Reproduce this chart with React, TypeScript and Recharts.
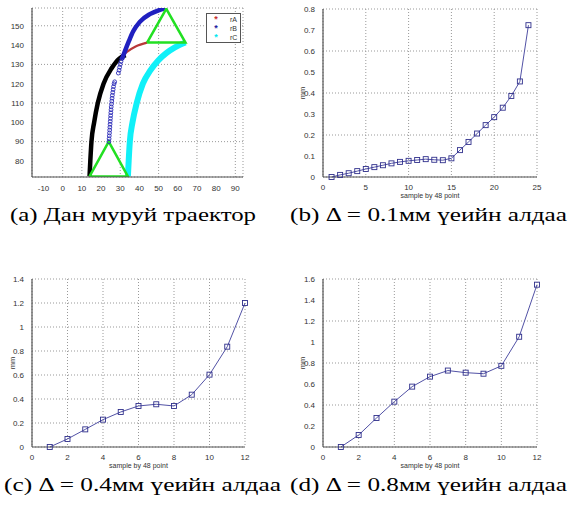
import React from "react";
import { LineChart, Line, XAxis, YAxis, CartesianGrid, Legend } from "recharts";

// (a) trajectories
const pathA = [
  { x: 14, y: 72 }, { x: 14.4, y: 80 }, { x: 15, y: 90 }, { x: 16.4, y: 100 },
  { x: 18.3, y: 110 }, { x: 21.3, y: 120 }, { x: 25.5, y: 128 }, { x: 29.5, y: 133 },
  { x: 33.5, y: 136.5 }, { x: 38, y: 139.3 }, { x: 44, y: 141.3 },
];
const pathBlack = [
  { x: 14, y: 72 }, { x: 14.4, y: 80 }, { x: 15, y: 90 }, { x: 16.4, y: 100 },
  { x: 18.3, y: 110 }, { x: 21.3, y: 120 }, { x: 25.5, y: 128 }, { x: 29.5, y: 133 },
  { x: 32.8, y: 134.8 },
];
const pathBLow = [
  { x: 24.1, y: 90 }, { x: 24.2, y: 91.5 }, { x: 24.3, y: 93 }, { x: 24.4, y: 94.5 },
  { x: 24.5, y: 96 }, { x: 24.6, y: 97.5 }, { x: 24.7, y: 99 }, { x: 24.8, y: 100.5 },
  { x: 24.9, y: 102 }, { x: 25, y: 103.5 }, { x: 25.1, y: 105 }, { x: 25.2, y: 106.5 },
  { x: 25.3, y: 108 }, { x: 25.45, y: 109.5 }, { x: 25.6, y: 111 }, { x: 25.75, y: 112.5 },
  { x: 25.9, y: 114 }, { x: 26.1, y: 115.5 }, { x: 26.3, y: 117 }, { x: 26.5, y: 118.5 },
  { x: 26.8, y: 120 }, { x: 27.1, y: 121 },
  { x: 29, y: 125.5 }, { x: 29.4, y: 127 }, { x: 29.7, y: 128.5 }, { x: 30, y: 130 },
  { x: 30.4, y: 131.5 }, { x: 30.9, y: 133 },
];
const pathBHigh = [
  { x: 30.8, y: 132.5 }, { x: 32.5, y: 137 }, { x: 34.5, y: 142 }, { x: 36.7, y: 147 },
  { x: 40.2, y: 152 }, { x: 45.4, y: 156 }, { x: 50, y: 158 }, { x: 53.5, y: 159 },
];
const pathC = [
  { x: 34, y: 72 }, { x: 34.4, y: 80 }, { x: 35, y: 90 }, { x: 36.4, y: 100 },
  { x: 38.6, y: 110 }, { x: 41.8, y: 120 }, { x: 45.8, y: 127 }, { x: 49.8, y: 132 },
  { x: 54, y: 135.8 }, { x: 58.5, y: 138.8 }, { x: 64, y: 141.3 },
];
const triStart = [{ x: 14, y: 72 }, { x: 34, y: 72 }, { x: 24, y: 90 }, { x: 14, y: 72 }];
const triEnd = [{ x: 44, y: 141.3 }, { x: 64, y: 141.3 }, { x: 54, y: 158.8 }, { x: 44, y: 141.3 }];
const legendA = [
  { name: "rA", color: "#c83030" },
  { name: "rB", color: "#1c1ca0" },
  { name: "rC", color: "#00e8f0" },
];
const ticksAX = [-10, 0, 10, 20, 30, 40, 50, 60, 70, 80, 90];
const ticksAY = [80, 90, 100, 110, 120, 130, 140, 150];

// (b)-(d) error per sample
const err01 = [0, 0.01, 0.018, 0.028, 0.038, 0.047, 0.056, 0.065, 0.072, 0.077, 0.081, 0.085,
  0.082, 0.08, 0.089, 0.128, 0.167, 0.207, 0.247, 0.285, 0.33, 0.386, 0.455, 0.723];
const err04 = [0, 0.067, 0.147, 0.228, 0.292, 0.342, 0.356, 0.342, 0.436, 0.603, 0.836, 1.2];
const err08 = [0, 0.114, 0.276, 0.432, 0.575, 0.67, 0.728, 0.708, 0.698, 0.773, 1.05, 1.546];
const ticks01Y = [0, 0.1, 0.2, 0.3, 0.4, 0.5, 0.6, 0.7, 0.8];
const ticks04Y = [0, 0.2, 0.4, 0.6, 0.8, 1, 1.2, 1.4];
const ticks08Y = [0, 0.2, 0.4, 0.6, 0.8, 1, 1.2, 1.4, 1.6];
const ticks24X = [0, 5, 10, 15, 20, 25];
const ticks12X = [0, 2, 4, 6, 8, 10, 12];

const captions = [
  { text: "(a) Дан муруй траектор", x: 10, y: 221, w: 246 },
  { text: "(b) Δ = 0.1мм үеийн алдаа", x: 290, y: 221, w: 277 },
  { text: "(c) Δ = 0.4мм үеийн алдаа", x: 4, y: 491, w: 277 },
  { text: "(d) Δ = 0.8мм үеийн алдаа", x: 290, y: 491, w: 277 },
];

const sans = "Liberation Sans, Arial, sans-serif";
const tickStyle = { fontSize: 8, fill: "#333", fontFamily: sans };
const axisLine = { stroke: "#555", strokeWidth: 1.2 };

const square = (p: any) => (
  <rect key={"s" + p.index} x={p.cx - 2.5} y={p.cy - 2.5} width={5} height={5}
    fill="none" stroke="#30308c" strokeWidth={0.9} />
);

const mmLabel = (p: any) => {
  const vb = p.viewBox;
  const x = vb.x + 12;
  const y = vb.y + vb.height / 2;
  return (
    <text x={x} y={y} transform={`rotate(-90 ${x} ${y})`} textAnchor="middle"
      dominantBaseline="central" fontSize={7.5} fill="#333" fontFamily={sans}>mm</text>
  );
};

function renderLegend() {
  return (
    <div style={{ width: 35, height: 30, border: "1px solid #555", background: "#fff",
      fontFamily: sans, fontSize: 7, color: "#333", boxSizing: "border-box", paddingTop: 1 }}>
      {legendA.map((it) => (
        <div key={it.name} style={{ height: 9, lineHeight: "9px", display: "flex" }}>
          <span style={{ width: 18, textAlign: "center", color: it.color, fontSize: 9, fontWeight: "bold" }}>*</span>
          <span style={{ marginLeft: 5 }}>{it.name}</span>
        </div>
      ))}
    </div>
  );
}

function ErrorPanel(props: { values: number[]; xTicks: number[]; yTicks: number[]; left: number; top: number; height: number; yw: number; mr: number; mt: number }) {
  const data = props.values.map((v, i) => ({ x: i + 1, y: v }));
  const xMax = props.xTicks[props.xTicks.length - 1];
  const yMax = props.yTicks[props.yTicks.length - 1];
  return (
    <div style={{ position: "absolute", left: props.left, top: props.top }}>
      <LineChart width={290} height={props.height} data={data}
        margin={{ top: props.mt, right: props.mr, left: 0, bottom: 3 }}>
        <CartesianGrid stroke="#999" strokeDasharray="1 2" />
        <XAxis dataKey="x" type="number" domain={[0, xMax]} ticks={props.xTicks} height={20}
          tick={tickStyle} tickLine={false} axisLine={axisLine} tickMargin={1}
          label={{ value: "sample by 48 point", position: "insideBottom", offset: -1,
            style: { fontSize: 7, fill: "#333", fontFamily: sans } }} />
        <YAxis type="number" domain={[0, yMax]} ticks={props.yTicks} width={props.yw}
          tick={tickStyle} tickLine={false} axisLine={axisLine} tickMargin={2}
          label={{ content: mmLabel }} />
        <Line dataKey="y" type="linear" stroke="#5252a6" strokeWidth={1}
          dot={square} isAnimationActive={false} />
      </LineChart>
    </div>
  );
}

function TrajectoryPanel() {
  return (
    <div style={{ position: "absolute", left: 0, top: 0 }}>
      <LineChart width={290} height={200} margin={{ top: 8, right: 47, left: 0, bottom: 5 }}>
        <CartesianGrid stroke="#999" strokeDasharray="1 2" />
        <XAxis dataKey="x" type="number" domain={[-16, 94]} ticks={ticksAX} height={18}
          tick={tickStyle} tickLine={false} axisLine={axisLine} tickMargin={2} allowDataOverflow />
        <YAxis type="number" domain={[71.7, 159.2]} ticks={ticksAY} width={32}
          tick={tickStyle} tickLine={false} axisLine={axisLine} tickMargin={2} allowDataOverflow />
        <Legend layout="horizontal" verticalAlign="middle" align="center" content={renderLegend}
          wrapperStyle={{ left: 206, top: 13, width: 35, height: 30 }} />
        <Line data={pathC} dataKey="y" type="monotone" stroke="#10f0f8" strokeWidth={6}
          dot={false} isAnimationActive={false} legendType="none" />
        <Line data={pathA} dataKey="y" type="monotone" stroke="#b83838" strokeWidth={2.2}
          dot={false} isAnimationActive={false} legendType="none" />
        <Line data={pathBlack} dataKey="y" type="monotone" stroke="#000" strokeWidth={4.5}
          dot={false} isAnimationActive={false} legendType="none" />
        <Line data={pathBHigh} dataKey="y" type="monotone" stroke="#2020c0" strokeWidth={4.5}
          dot={false} isAnimationActive={false} legendType="none" />
        <Line data={pathBLow} dataKey="y" type="monotone" stroke="none"
          dot={{ r: 1.9, stroke: "#2a2ab8", strokeWidth: 0.9, fill: "none" }}
          isAnimationActive={false} legendType="none" />
        <Line data={triStart} dataKey="y" type="linear" stroke="#22e022" strokeWidth={2.5}
          dot={false} isAnimationActive={false} legendType="none" />
        <Line data={triEnd} dataKey="y" type="linear" stroke="#22e022" strokeWidth={2.5}
          dot={false} isAnimationActive={false} legendType="none" />
      </LineChart>
    </div>
  );
}

export default function App() {
  return (
    <div style={{ position: "absolute", left: 0, top: 0, width: 580, height: 510, background: "#fff" }}>
      <TrajectoryPanel />
      <ErrorPanel values={err01} xTicks={ticks24X} yTicks={ticks01Y} left={290} top={0}
        height={200} yw={33} mr={43} mt={9} />
      <ErrorPanel values={err04} xTicks={ticks12X} yTicks={ticks04Y} left={0} top={250}
        height={220} yw={32} mr={45} mt={29} />
      <ErrorPanel values={err08} xTicks={ticks12X} yTicks={ticks08Y} left={290} top={250}
        height={220} yw={33} mr={43} mt={29} />
      <svg width={580} height={510} style={{ position: "absolute", left: 0, top: 0, pointerEvents: "none" }}>
        {captions.map((c) => (
          <text key={c.text} x={c.x} y={c.y} textLength={c.w} lengthAdjust="spacingAndGlyphs"
            fontSize={18} fill="#000" fontFamily="Liberation Serif, serif">{c.text}</text>
        ))}
      </svg>
    </div>
  );
}
